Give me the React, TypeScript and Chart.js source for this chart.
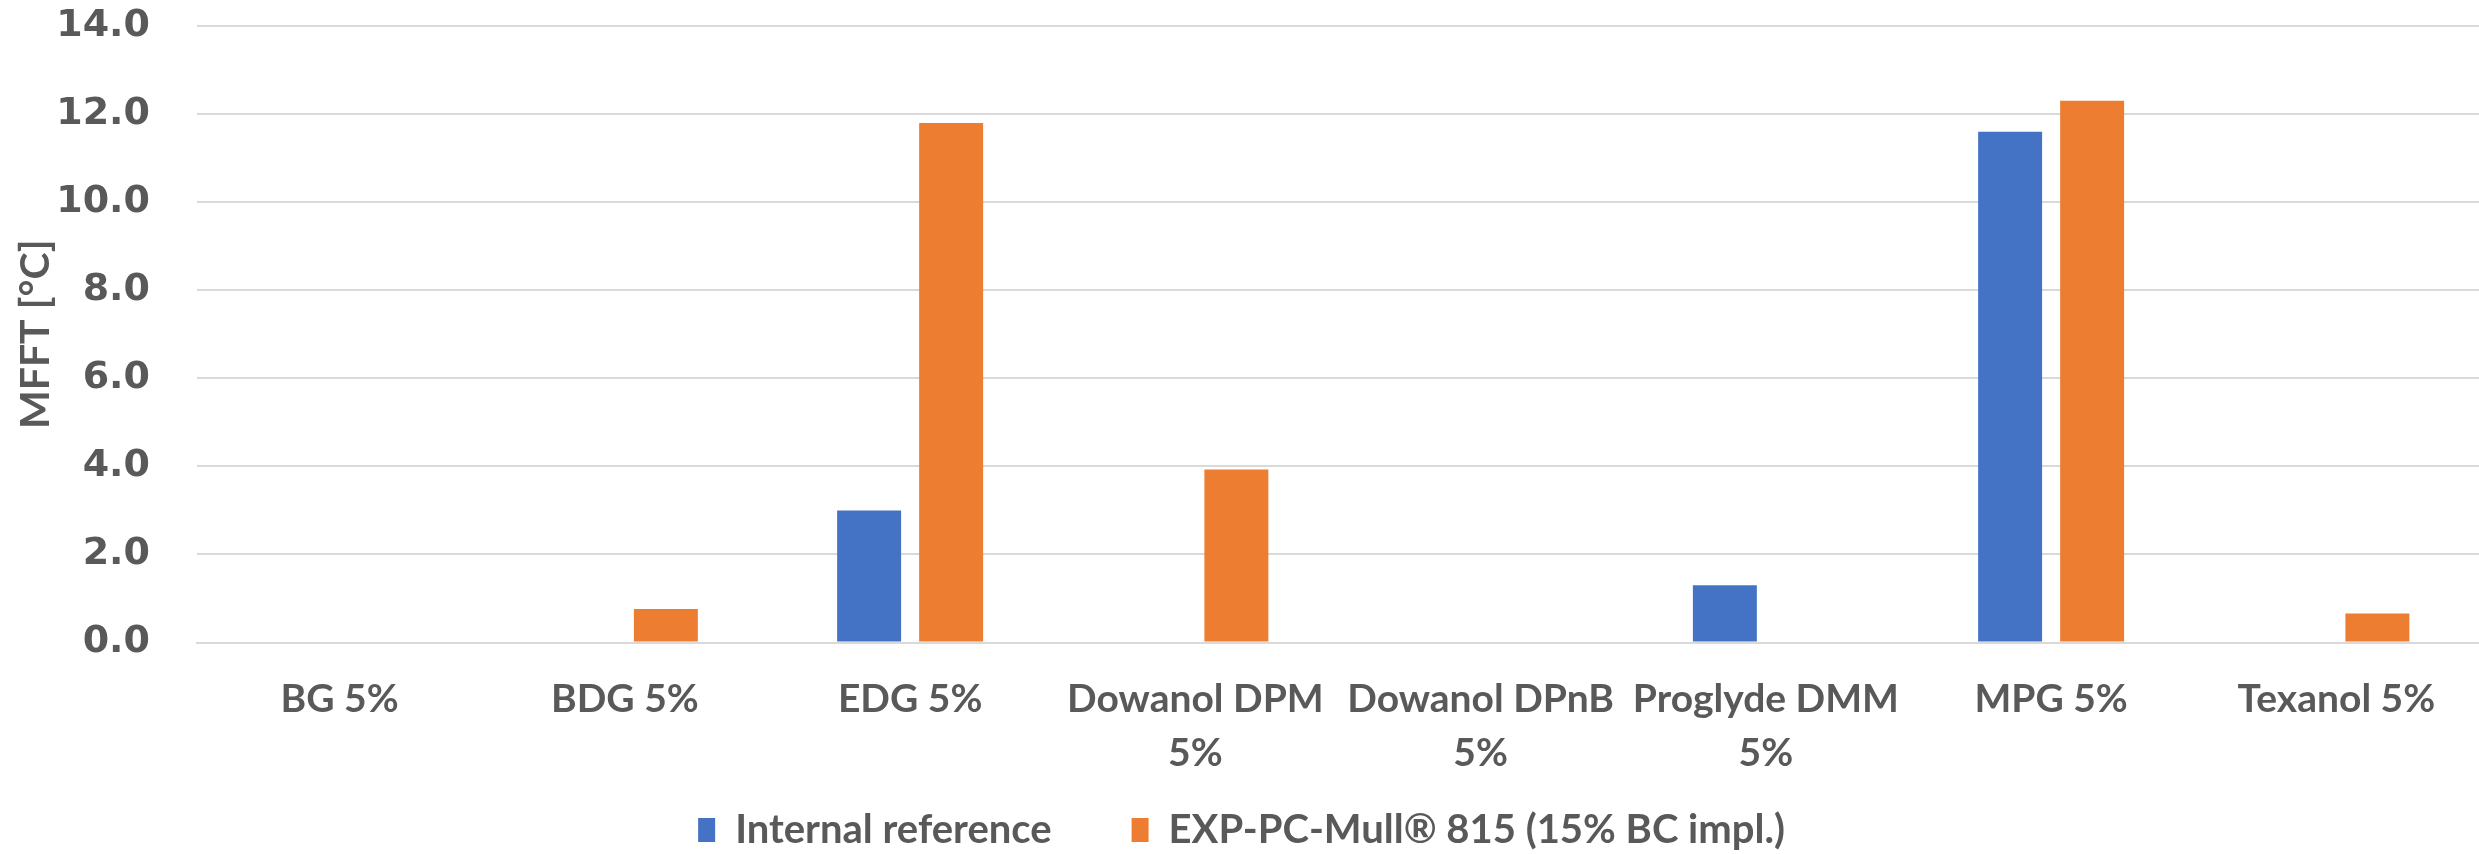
import React, { useEffect, useRef } from "react";
import { Chart, registerables } from "chart.js";

Chart.register(...registerables);

const categories: (string | string[])[] = [
  "BG 5%",
  "BDG 5%",
  "EDG 5%",
  ["Dowanol DPM", "5%"],
  ["Dowanol DPnB", "5%"],
  ["Proglyde DMM", "5%"],
  "MPG 5%",
  "Texanol 5%",
];
const seriesNames = ["Internal reference", "EXP-PC-Mull® 815 (15% BC impl.)"];
const internalReference = [0, 0, 3.0, 0, 0, 1.3, 11.6, 0];
const expPcMull = [0, 0.76, 11.8, 3.93, 0, 0, 12.3, 0.66];
const yMin = 0;
const yMax = 14;
const yStep = 2;
const yTitle = "MFFT [°C]";

const FONT = "Lato, 'Liberation Sans', sans-serif";
const TICK_FONT = "'DejaVu Sans', sans-serif";
const GREY = "#595959";
const GRID = "#d9d9d9";

const CANVAS_H = 860;
const LEGEND_FONT = 40;
const LEGEND_PAD = 80;
const PLOT_BOTTOM = 642.5;
const X_LINE_H = 54;

export default function App() {
  const ref = useRef<HTMLCanvasElement | null>(null);

  useEffect(() => {
    if (!ref.current) return;
    const legendH = Math.max(LEGEND_FONT, 24) + LEGEND_PAD + 10;
    const chart = new Chart(ref.current, {
      type: "bar",
      data: {
        labels: categories,
        datasets: [
          {
            label: seriesNames[0],
            data: internalReference,
            backgroundColor: "#4472C4",
            borderWidth: 0,
            categoryPercentage: 0.575,
            barPercentage: 0.78,
          },
          {
            label: seriesNames[1],
            data: expPcMull,
            backgroundColor: "#ED7D31",
            borderWidth: 0,
            categoryPercentage: 0.575,
            barPercentage: 0.78,
          },
        ],
      },
      options: {
        responsive: false,
        animation: false,
        layout: { autoPadding: false, padding: { top: 26, left: 0, right: -4, bottom: 0 } },
        plugins: {
          tooltip: { enabled: false },
          legend: {
            position: "bottom",
            labels: {
              boxWidth: 17,
              boxHeight: 24,
              padding: LEGEND_PAD,
              color: GREY,
              font: { family: FONT, size: LEGEND_FONT, weight: "bold" },
            },
          },
        },
        scales: {
          x: {
            grid: { display: false, drawTicks: false },
            border: { display: true, color: GRID, width: 2 },
            ticks: {
              color: GREY,
              mirror: true,
              padding: -(30 + X_LINE_H),
              maxRotation: 0,
              autoSkip: false,
              font: { family: FONT, size: 39, weight: "bold", lineHeight: X_LINE_H / 39 },
            },
            afterFit: (scale: any) => {
              scale.height = CANVAS_H - legendH - PLOT_BOTTOM;
              scale.paddingLeft = 0;
              scale.paddingRight = 0;
            },
          },
          y: {
            min: yMin,
            max: yMax,
            grid: { color: GRID, lineWidth: 2, drawTicks: false },
            border: { display: false },
            ticks: {
              stepSize: yStep,
              color: GREY,
              padding: 47,
              font: { family: TICK_FONT, size: 38, weight: "bold" },
              callback: (v: any) => Number(v).toFixed(1),
            },
            title: {
              display: true,
              text: yTitle,
              color: GREY,
              padding: { top: 11, bottom: 0 },
              font: { family: FONT, size: 41, weight: "bold" },
            },
            afterFit: (scale: any) => {
              scale.width = 197;
              scale.paddingTop = 0;
              scale.paddingBottom = 0;
            },
          },
        },
      },
    });
    return () => chart.destroy();
  }, []);

  return (
    <div
      style={{
        position: "absolute",
        left: 0,
        top: 0,
        width: 2479,
        height: 854,
        overflow: "hidden",
        background: "#ffffff",
      }}
    >
      <canvas ref={ref} width={2479} height={CANVAS_H} style={{ display: "block" }} />
    </div>
  );
}
